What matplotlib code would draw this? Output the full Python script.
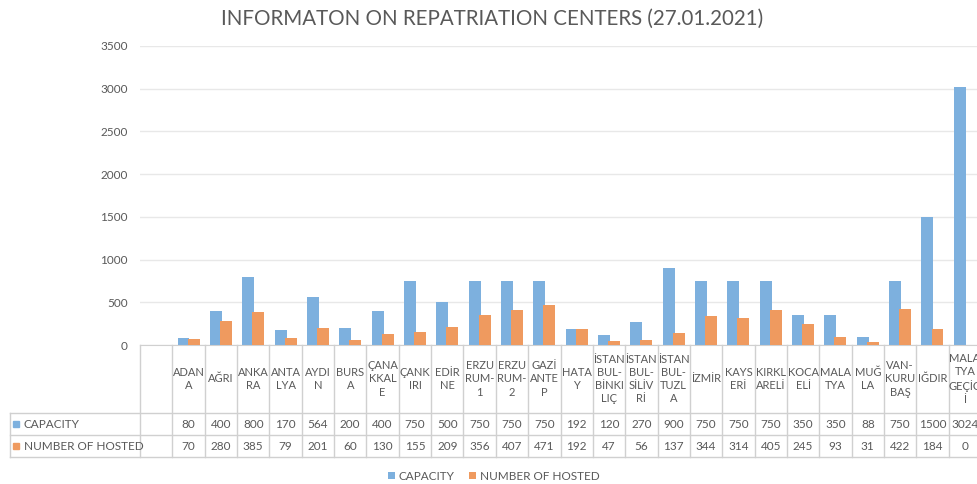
import matplotlib.pyplot as plt
import numpy as np

# table header labels, wrapped the same way the sheet does
categories = ["ADAN\nA", "AĞRI", "ANKA\nRA", "ANTA\nLYA", "AYDI\nN", "BURS\nA",
              "ÇANA\nKKAL\nE", "ÇANK\nIRI", "EDİR\nNE", "ERZU\nRUM-\n1", "ERZU\nRUM-\n2",
              "GAZİ\nANTE\nP", "HATA\nY", "İSTAN\nBUL-\nBİNKI\nLIÇ", "İSTAN\nBUL-\nSİLİV\nRİ",
              "İSTAN\nBUL-\nTUZL\nA", "İZMİR", "KAYS\nERİ", "KIRKL\nARELİ", "KOCA\nELİ",
              "MALA\nTYA", "MUĞ\nLA", "VAN-\nKURU\nBAŞ", "IĞDIR", "MALA\nTYA\nGEÇİC\nİ"]
capacity = [80, 400, 800, 170, 564, 200, 400, 750, 500, 750, 750, 750, 192, 120, 270,
            900, 750, 750, 750, 350, 350, 88, 750, 1500, 3024]
hosted = [70, 280, 385, 79, 201, 60, 130, 155, 209, 356, 407, 471, 192, 47, 56,
          137, 344, 314, 405, 245, 93, 31, 422, 184, 0]
series_names = ["CAPACITY", "NUMBER OF HOSTED"]
yticks = [0, 500, 1000, 1500, 2000, 2500, 3000, 3500]

blue = '#7DB0DE'
orange = '#EF9A5F'
grey = '#595959'
linec = '#D0D0D0'
font = 'Lato'

plt.rcParams['font.family'] = [font, 'DejaVu Sans']

fig = plt.figure(figsize=(9.78, 4.84), dpi=100)
ax = fig.add_axes([140 / 978, 139 / 484, 841 / 978, 299 / 484])

# first column of the sheet is blank, so data starts at 1
x = np.arange(1, len(categories) + 1)
w = 0.37
ax.bar(x - 0.155, capacity, w, color=blue, label=series_names[0], zorder=2)
ax.bar(x + 0.155, hosted, w, color=orange, label=series_names[1], zorder=3)

ax.set_xlim(-0.5, len(categories) + 0.5)
ax.set_ylim(0, 3500)
ax.set_yticks(yticks)
ax.yaxis.grid(True, color='#E8E8E8', linewidth=1)
ax.set_axisbelow(True)
for s in ['top', 'right', 'left']:
    ax.spines[s].set_visible(False)
ax.spines['bottom'].set_color(linec)
ax.tick_params(axis='y', length=0, pad=9, labelsize=8.5, labelcolor=grey)
ax.set_xticks([])

# data table under the plot
tr = ax.get_xaxis_transform()
y_head = -68 / 299
y_r1 = -90 / 299
y_r2 = -112 / 299
x_lab = -0.5 - 130 / 32.33

for b in np.arange(-0.5, len(categories) + 1, 1.0):
    ax.plot([b, b], [0, y_r2], transform=tr, color=linec, lw=1, clip_on=False)
ax.plot([x_lab, x_lab], [y_head, y_r2], transform=tr, color=linec, lw=1, clip_on=False)
for yy in [y_head, y_r1, y_r2]:
    ax.plot([x_lab, len(categories) + 0.6], [yy, yy], transform=tr, color=linec, lw=1, clip_on=False)

for xi, lab, c, h in zip(x, categories, capacity, hosted):
    ax.text(xi, y_head / 2, lab, transform=tr, ha='center', va='center', fontsize=8,
            color=grey, linespacing=1.25, clip_on=False)
    ax.text(xi, (y_head + y_r1) / 2, str(c), transform=tr, ha='center', va='center',
            fontsize=8.5, color=grey, clip_on=False)
    ax.text(xi, (y_r1 + y_r2) / 2, str(h), transform=tr, ha='center', va='center',
            fontsize=8.5, color=grey, clip_on=False)

for name, col, y0, y1 in [(series_names[0], blue, y_head, y_r1), (series_names[1], orange, y_r1, y_r2)]:
    ym = (y0 + y1) / 2
    ax.plot([x_lab + 0.18], [ym], transform=tr, marker='s', ms=5, color=col,
            linestyle='none', clip_on=False)
    ax.text(x_lab + 0.42, ym, name, transform=tr, ha='left', va='center', fontsize=8.5,
            color=grey, clip_on=False)

fig.text(0.503, 0.962, "INFORMATON ON REPATRIATION CENTERS (27.01.2021)", ha='center',
         va='center', fontsize=14.8, color=grey)

fig.legend(loc='center', bbox_to_anchor=(0.505, 0.016), ncol=2, frameon=False,
           handlelength=0.6, handleheight=0.6, handletextpad=0.3, columnspacing=1.2,
           fontsize=8.5, labelcolor=grey)

fig.savefig('out.png', dpi=100)
